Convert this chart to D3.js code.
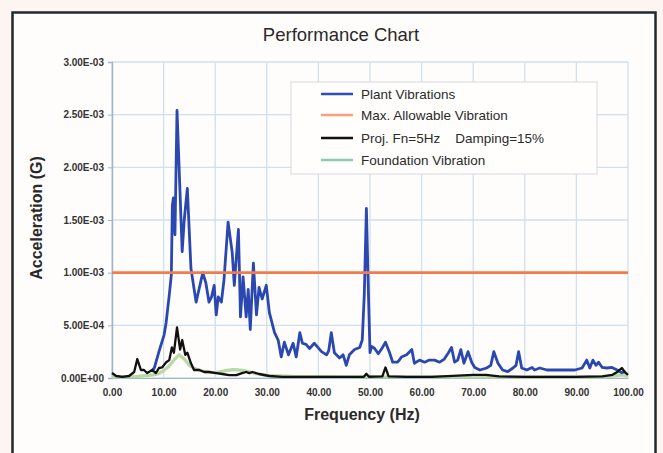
<!DOCTYPE html>
<html>
<head>
<meta charset="utf-8">
<script src="https://cdn.jsdelivr.net/npm/d3@7"></script>
<style>
  html, body { margin: 0; padding: 0; background: #fcf5f1; }
  svg { display: block; }
  text { font-family: "Liberation Sans", Arial, sans-serif; }
</style>
</head>
<body>
<svg id="chart" width="663" height="453"></svg>
<script>
// ---------------- DATA ----------------
const title = "Performance Chart";
const xTicks = [0, 10, 20, 30, 40, 50, 60, 70, 80, 90, 100];
const yTicks = [0, 0.0005, 0.001, 0.0015, 0.002, 0.0025, 0.003];
const seriesNames = ["Plant Vibrations", "Max. Allowable Vibration", "Proj. Fn=5Hz    Damping=15%", "Foundation Vibration"];

const plantFreq = [7.6, 8.2, 9.1, 10.1, 10.5, 11.1, 11.5, 11.7, 11.9, 12.2, 12.6, 13.2, 13.6, 14.0, 14.6, 15.3, 16.3, 16.9, 17.6, 18.2, 18.8, 19.3, 19.8, 20.2, 20.6, 21.2, 21.7, 22.5, 23.3, 23.7, 24.5, 24.9, 25.4, 26.0, 26.4, 26.8, 27.4, 28.0, 28.5, 29.1, 29.9, 30.5, 31.5, 32.2, 32.8, 33.4, 34.2, 35.1, 35.7, 36.4, 36.9, 37.6, 38.3, 39.2, 39.9, 40.6, 41.6, 42.0, 42.5, 43.1, 44.1, 44.8, 45.4, 46.0, 47.0, 48.0, 48.5, 48.9, 49.3, 49.7, 50.0, 50.3, 50.9, 51.6, 52.3, 53.0, 53.8, 54.4, 55.3, 55.7, 56.1, 57.1, 58.1, 58.6, 59.6, 60.6, 61.5, 62.5, 63.5, 64.4, 65.2, 65.8, 66.4, 67.0, 67.6, 68.2, 69.0, 69.7, 70.3, 71.3, 72.6, 73.4, 74.0, 74.8, 75.7, 76.7, 77.7, 78.3, 78.8, 79.4, 80.4, 81.4, 81.9, 82.9, 84.3, 85.8, 87.8, 89.7, 91.1, 92.0, 92.6, 93.2, 93.8, 94.3, 95.0, 95.9, 96.9, 97.9, 98.8, 99.4];
const plantVal = [6e-5, 9.5e-5, 2.5e-4, 4.1e-4, 5.3e-4, 7.9e-4, 9.8e-4, 1.64e-3, 1.71e-3, 1.36e-3, 2.54e-3, 1.74e-3, 1.2e-3, 1.5e-3, 1.8e-3, 1.04e-3, 7.2e-4, 8.5e-4, 1.0e-3, 9.0e-4, 7.2e-4, 7.7e-4, 8.8e-4, 6.0e-4, 7.7e-4, 7.2e-4, 9.3e-4, 1.48e-3, 1.19e-3, 8.8e-4, 1.41e-3, 5.8e-4, 9.6e-4, 5.8e-4, 8.4e-4, 4.6e-4, 1.09e-3, 6.0e-4, 8.6e-4, 7.5e-4, 8.8e-4, 6.2e-4, 4.3e-4, 3.6e-4, 2.0e-4, 3.4e-4, 2.2e-4, 3.3e-4, 2.0e-4, 4.3e-4, 3.3e-4, 3.2e-4, 2.8e-4, 3.3e-4, 2.9e-4, 2.5e-4, 2.2e-4, 2.6e-4, 4.3e-4, 2.4e-4, 1.9e-4, 2.2e-4, 1.2e-4, 2.2e-4, 2.7e-4, 2.9e-4, 3.6e-4, 8.0e-4, 1.61e-3, 8.0e-4, 2.4e-4, 3.0e-4, 2.8e-4, 2.3e-4, 2.8e-4, 3.4e-4, 2.4e-4, 1.5e-4, 1.5e-4, 1.7e-4, 2.0e-4, 2.2e-4, 2.7e-4, 1.4e-4, 1.7e-4, 1.5e-4, 1.7e-4, 1.7e-4, 1.5e-4, 1.8e-4, 2.4e-4, 2.9e-4, 1.5e-4, 1.7e-4, 2.7e-4, 1.4e-4, 2.5e-4, 1.5e-4, 1.0e-4, 7.6e-5, 9.5e-5, 1.2e-4, 2.5e-4, 1.4e-4, 7.6e-5, 6e-5, 9.5e-5, 1.2e-4, 2.5e-4, 9.5e-5, 7.6e-5, 1.0e-4, 7.6e-5, 9.5e-5, 7.6e-5, 7.6e-5, 7.6e-5, 7.6e-5, 9.5e-5, 1.7e-4, 9.5e-5, 1.7e-4, 1.2e-4, 1.5e-4, 1.0e-4, 9.5e-5, 1.0e-4, 7.6e-5, 5e-5, 6e-5];

const maxAllowFreq = [0, 100];
const maxAllowVal = [1.0e-3, 1.0e-3];

const projFreq = [0, 0.8, 2.0, 3.3, 4.3, 4.9, 5.6, 6.2, 6.8, 7.8, 8.5, 9.1, 9.7, 10.5, 11.1, 11.6, 12.0, 12.6, 13.2, 13.6, 14.2, 14.6, 15.3, 15.9, 16.9, 17.9, 18.8, 20.2, 21.4, 22.7, 24.1, 25.2, 26.0, 26.6, 27.2, 28.5, 30.5, 33.0, 35.7, 38.3, 42.0, 46.0, 48.8, 49.3, 49.8, 52.4, 53.0, 53.6, 57.0, 62.0, 66.0, 70.0, 72.5, 75.0, 80.0, 85.0, 90.0, 95.0, 97.0, 98.0, 98.8, 99.5, 100];
const projVal = [4.7e-5, 1.9e-5, 1e-5, 1.9e-5, 5.7e-5, 1.8e-4, 7.6e-5, 7.6e-5, 4.7e-5, 7.6e-5, 4.7e-5, 9.5e-5, 1.0e-4, 1.5e-4, 1.7e-4, 2.9e-4, 2.4e-4, 4.8e-4, 2.7e-4, 3.6e-4, 2.2e-4, 2.4e-4, 1.4e-4, 7.6e-5, 7.6e-5, 5.7e-5, 5.7e-5, 4.7e-5, 3.8e-5, 2.8e-5, 2.8e-5, 4.7e-5, 5.7e-5, 4.7e-5, 5.7e-5, 3.8e-5, 1.9e-5, 1e-5, 1e-5, 1e-5, 1e-5, 1e-5, 1.2e-5, 4e-5, 1.2e-5, 1.5e-5, 1.0e-4, 1.5e-5, 1e-5, 1e-5, 2e-5, 3e-5, 3e-5, 1.5e-5, 1e-5, 1e-5, 1e-5, 1.5e-5, 3e-5, 6e-5, 9.5e-5, 5e-5, 3e-5];

const foundFreq = [0, 5, 8, 9, 10, 11, 12, 13, 14, 15, 16, 18, 20, 22, 23.5, 25, 26.5, 28, 30, 35, 45, 60, 80, 95, 99, 100];
const foundVal = [1e-5, 1.5e-5, 3e-5, 4e-5, 7e-5, 1.1e-4, 1.7e-4, 2.2e-4, 1.8e-4, 1.2e-4, 9e-5, 6e-5, 5e-5, 7e-5, 8e-5, 7.5e-5, 6e-5, 4e-5, 2.5e-5, 1.5e-5, 1.2e-5, 1.2e-5, 1e-5, 1e-5, 3e-5, 2e-5];

// ---------------- LAYOUT ----------------
const svg = d3.select("#chart");
const plot = { left: 112, right: 628, top: 62, bottom: 378 };

const x = d3.scaleLinear().domain([0, 100]).range([plot.left, plot.right]);
const y = d3.scaleLinear().domain([0, 0.003]).range([plot.bottom, plot.top]);

// outer frame
svg.append("rect").attr("x", 12.5).attr("y", 12.5).attr("width", 643).attr("height", 460)
  .attr("fill", "#fffdfc").attr("stroke", "#1d2b2b").attr("stroke-width", 2.5);

// title
svg.append("text").attr("x", 341).attr("y", 41).attr("text-anchor", "middle")
  .attr("font-size", 18.5).attr("fill", "#2a2a2a").text(title);

// gridlines
const grid = svg.append("g");
grid.selectAll(".gx").data(xTicks).join("line")
  .attr("x1", d => x(d)).attr("x2", d => x(d)).attr("y1", plot.top).attr("y2", plot.bottom)
  .attr("stroke", "#cfe0ee").attr("stroke-width", 1.3);
grid.selectAll(".gy").data(yTicks).join("line")
  .attr("x1", plot.left).attr("x2", plot.right).attr("y1", d => y(d)).attr("y2", d => y(d))
  .attr("stroke", "#cfe0ee").attr("stroke-width", 1.3);

// axes
const yAxis = d3.axisLeft(y).tickValues(yTicks).tickSize(4).tickPadding(4)
  .tickFormat(d => d3.format(".2e")(d).replace("e", "E").replace(/E([+-])(\d)$/, "E$10$2").toUpperCase());
const gy = svg.append("g").attr("transform", `translate(${plot.left},0)`).call(yAxis);
gy.select(".domain").attr("stroke", "#9fb6ca").attr("stroke-width", 1.5);
gy.selectAll(".tick line").attr("stroke", "#9fb6ca");
gy.selectAll(".tick text").attr("font-size", 10).attr("font-weight", "bold").attr("fill", "#333")
  .attr("font-family", "Liberation Sans, Arial, sans-serif");

const xAxis = d3.axisBottom(x).tickValues(xTicks).tickSize(0).tickPadding(11).tickFormat(d3.format(".2f"));
const gx = svg.append("g").attr("transform", `translate(0,${plot.bottom})`).call(xAxis);
gx.select(".domain").attr("stroke", "#9fb6ca").attr("stroke-width", 1.2);
gx.selectAll(".tick text").attr("font-size", 10).attr("font-weight", "bold").attr("fill", "#333")
  .attr("font-family", "Liberation Sans, Arial, sans-serif");

// axis titles
svg.append("text").attr("transform", "translate(42,218) rotate(-90)").attr("text-anchor", "middle")
  .attr("font-size", 16).attr("font-weight", "bold").attr("fill", "#2a2a2a").text("Acceleration (G)");
svg.append("text").attr("x", 362).attr("y", 420).attr("text-anchor", "middle")
  .attr("font-size", 16).attr("font-weight", "bold").attr("fill", "#2a2a2a").text("Frequency (Hz)");

// lines
const line = d3.line().x(d => x(d[0])).y(d => y(d[1]));
const zip = (a, b) => a.map((v, i) => [v, b[i]]);

svg.append("path").datum(zip(foundFreq, foundVal)).attr("d", line)
  .attr("fill", "none").attr("stroke", "#b8d9a6").attr("stroke-width", 3.2).attr("stroke-linejoin", "round");
svg.append("path").datum(zip(plantFreq, plantVal)).attr("d", line)
  .attr("fill", "none").attr("stroke", "#2b48b0").attr("stroke-width", 2.8).attr("stroke-linejoin", "round");
svg.append("path").datum(zip(maxAllowFreq, maxAllowVal)).attr("d", line)
  .attr("fill", "none").attr("stroke", "#f27b4e").attr("stroke-width", 2.8);
svg.append("path").datum(zip(projFreq, projVal)).attr("d", line)
  .attr("fill", "none").attr("stroke", "#111").attr("stroke-width", 2.3).attr("stroke-linejoin", "round");

// legend
const legendColors = ["#2d4fb8", "#f7a07f", "#111", "#8fcab0"];
const legendY = [94, 115, 138, 160];
const lg = svg.append("g");
lg.append("rect").attr("x", 291).attr("y", 82).attr("width", 306).attr("height", 92)
  .attr("fill", "#fffefd").attr("stroke", "#d8d8dc").attr("stroke-width", 1);
seriesNames.forEach((name, i) => {
  lg.append("line").attr("x1", 321).attr("x2", 353).attr("y1", legendY[i]).attr("y2", legendY[i])
    .attr("stroke", legendColors[i]).attr("stroke-width", 2.5);
  lg.append("text").attr("x", 361).attr("y", legendY[i] + 4.5).attr("font-size", 13.5)
    .attr("fill", "#2a2a2a").attr("xml:space", "preserve").style("white-space", "pre").text(name);
});
</script>
</body>
</html>
